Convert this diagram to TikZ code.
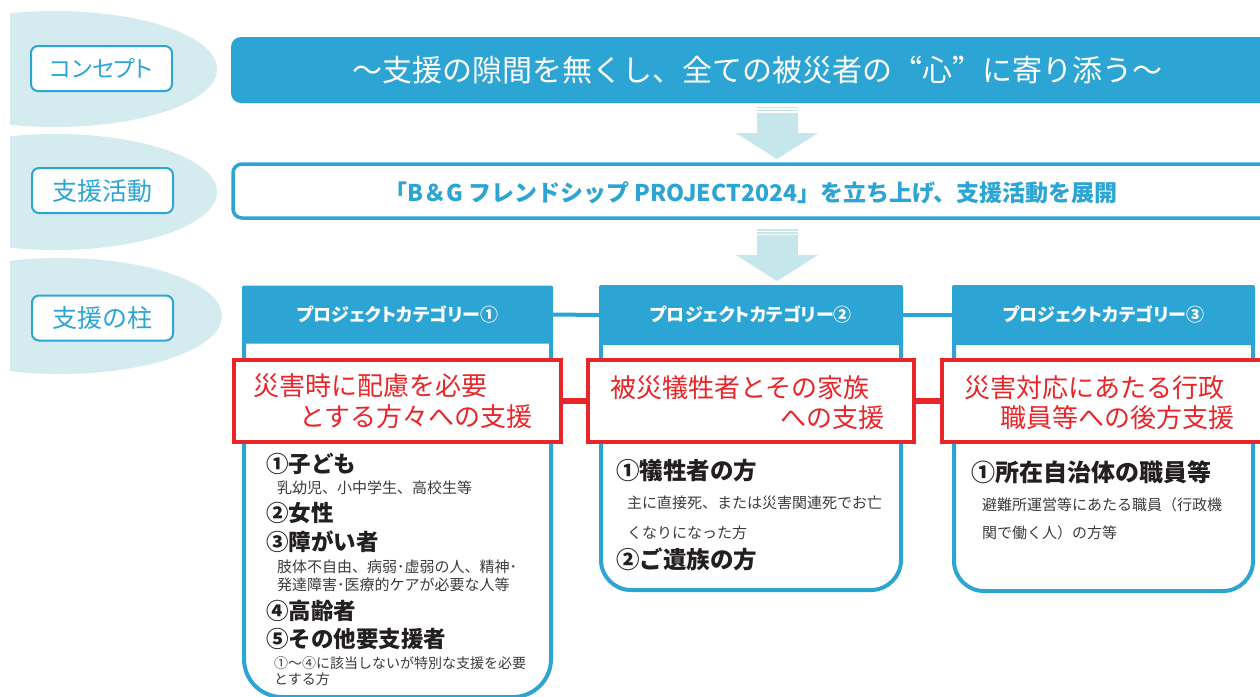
\documentclass[tikz,border=0pt]{standalone}
\usepackage{fontspec}
\setmainfont{Noto Sans CJK JP}
\newfontfamily\jpp[RawFeature=+palt]{Noto Sans CJK JP}
\newfontfamily\jpfw[RawFeature=+fwid]{Noto Sans CJK JP}
\definecolor{bl}{RGB}{45,165,212}
\definecolor{ellc}{RGB}{212,236,239}
\definecolor{arrc}{RGB}{197,231,235}
\definecolor{rd}{RGB}{232,38,42}
\definecolor{dk}{RGB}{35,31,32}
\definecolor{gy}{RGB}{60,60,60}
\tikzset{
  tx/.style={inner sep=0pt, font=\fontsize{#1}{#1}\selectfont, text height={0.88*#1pt}, text depth={0.12*#1pt}},
  txb/.style={inner sep=0pt, font=\fontsize{#1}{#1}\selectfont\bfseries, text height={0.88*#1pt}, text depth={0.12*#1pt}},
  txp/.style={inner sep=0pt, font=\fontsize{#1}{#1}\selectfont\jpp, text height={0.88*#1pt}, text depth={0.12*#1pt}},
  txpb/.style={inner sep=0pt, font=\fontsize{#1}{#1}\selectfont\jpp\bfseries, text height={0.88*#1pt}, text depth={0.12*#1pt}},
  ell/.style={fill=ellc},
  arr/.style={fill=arrc},
  lbl/.style={draw=bl, line width=2pt, rounded corners=7pt, fill=white, text=bl, minimum width=141pt, minimum height=45pt},
  hdr/.style={fill=bl, rounded corners=2pt, text=white, minimum height=60pt},
  body/.style={draw=bl, line width=4pt},
  redbox/.style={draw=rd, line width=4pt, fill=white, minimum height=82pt},
  hcon/.style={draw=bl, line width=4pt},
  rcon/.style={draw=rd, line width=6pt},
  rtext/.style={tx=26, text=rd},
  item/.style={text=dk, anchor=west},
  note/.style={tx=15, text=gy, anchor=west},
}
\begin{document}
\begin{tikzpicture}[x=1pt,y=-1pt]
\useasboundingbox (0,0) rectangle (1260,696);
\clip (0,0) rectangle (1260,696);
\fill[white] (0,0) rectangle (1260,696);

% left ellipses
\begin{scope}
\clip (10,0) rectangle (400,696);
\fill[ell] (55,69) ellipse (162pt and 58pt);
\fill[ell] (55,192) ellipse (162pt and 58pt);
\fill[ell] (60,316) ellipse (162pt and 58pt);
\end{scope}

% labels
\node[lbl, txp=23] (l1) at (101.5,68.5) {コンセプト};
\node[lbl, tx=25] (l2) at (102.5,190.5) {支援活動};
\node[lbl, tx=25] (l3) at (102.5,318) {支援の柱};

% concept bar
\node[fill=bl, rounded corners=10pt, minimum width=1059pt, minimum height=66pt, inner sep=0pt] (concept) at (760.5,70) {};
\node[tx=30, text=white] (ctext) at (757,70) {～支援の隙間を無くし、全ての被災者の{\jpfw “}心{\jpfw ”}に寄り添う～};

% arrow 1
\fill[arr] (757,106.5) rectangle (798,108.3);
\fill[arr] (757,109.6) rectangle (798,111.2);
\fill[arr] (757,112.5) rectangle (798,133.5);
\fill[arr] (736,133) -- (818,133) -- (777,159) -- cycle;
% arrow 2
\fill[arr] (757,228.8) rectangle (798,230.6);
\fill[arr] (757,231.9) rectangle (798,233.5);
\fill[arr] (757,234.8) rectangle (798,255.5);
\fill[arr] (736,255) -- (818,255) -- (777,281) -- cycle;

% activity bar
\node[draw=bl, line width=3.5pt, rounded corners=9pt, fill=white, minimum width=1057pt, minimum height=54pt, inner sep=0pt] (act) at (761.5,191) {};
\node[txb=23, text=bl] (atext) at (751,193) {「B＆G フレンドシップ PROJECT2024」を立ち上げ、支援活動を展開};

% bodies
\draw[body, rounded corners=38pt] (244,340) -- (244,697) -- (551,697) -- (551,340);
\draw[body, rounded corners=30pt] (601,340) -- (601,590) -- (901,590) -- (901,340);
\draw[body, rounded corners=30pt] (954,340) -- (954,591) -- (1253,591) -- (1253,340);

% headers
\node[hdr, txpb=18, minimum width=311pt, minimum height=58pt] (h1) at (397.5,314.5) {プロジェクトカテゴリー①};
\node[hdr, txpb=18, minimum width=304pt] (h2) at (751,315) {プロジェクトカテゴリー②};
\node[hdr, txpb=18, minimum width=303pt] (h3) at (1103.5,315) {プロジェクトカテゴリー③};
\draw[hcon] (h1.east) -- (h2.west);
\draw[hcon] (h2.east) -- (h3.west);

% red boxes
\node[redbox, minimum width=327pt] (r1) at (397.5,401) {};
\node[redbox, minimum width=326pt] (r2) at (751,401) {};
\node[redbox, minimum width=326pt] (r3) at (1105,401) {};
\draw[rcon] (r1.east) -- (r2.west);
\draw[rcon] (r2.east) -- (r3.west);

\node[rtext, anchor=west] (r1a) at (253,386) {災害時に配慮を必要};
\node[rtext, anchor=east] (r1b) at (533,417) {とする方々への支援};
\node[rtext, anchor=west] (r2a) at (610,388) {被災犠牲者とその家族};
\node[rtext, anchor=east] (r2b) at (885,418) {への支援};
\node[rtext, anchor=west] (r3a) at (964,388) {災害対応にあたる行政};
\node[rtext, anchor=west] (r3b) at (1000,418) {職員等への後方支援};

% category 1 items
\node[item, txb=22.5] (a1) at (266,464) {①子ども};
\node[note] (a1n) at (277,488) {乳幼児、小中学生、高校生等};
\node[item, txb=22.5] (a2) at (266,513) {②女性};
\node[item, txb=22.5] (a3) at (266,542) {③障がい者};
\node[note] (a3n) at (277,567) {肢体不自由、病弱･虚弱の人、精神･};
\node[note] (a3m) at (277,585) {発達障害･医療的ケアが必要な人等};
\node[item, txb=22.5] (a4) at (266,611) {④高齢者};
\node[item, txb=22.5] (a5) at (266,639) {⑤その他要支援者};
\node[note, tx=14] (a5n) at (274,663) {①～④に該当しないが特別な支援を必要};
\node[note, tx=14] (a5m) at (274,679) {とする方};

% category 2 items
\node[item, txb=23.5] (b1) at (616,471) {①犠牲者の方};
\node[note] (b1n) at (627,503) {主に直接死、または災害関連死でお亡};
\node[note] (b1m) at (627,533) {くなりになった方};
\node[item, txb=23.5] (b2) at (616,560) {②ご遺族の方};

% category 3 items
\node[item, txb=24] (c1) at (971,472) {①所在自治体の職員等};
\node[note] (c1n) at (982,505) {避難所運営等にあたる職員（行政機};
\node[note] (c1m) at (982,533) {関で働く人）の方等};
\end{tikzpicture}
\end{document}
